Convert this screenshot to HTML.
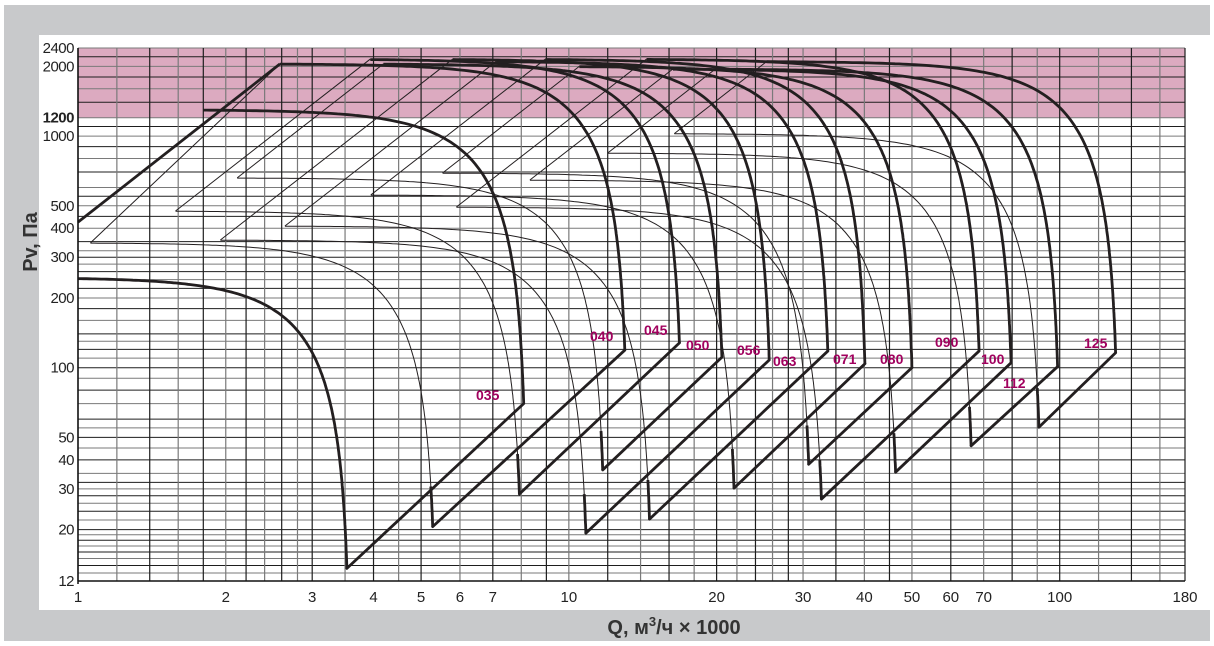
<!DOCTYPE html>
<html><head><meta charset="utf-8">
<style>
html,body{margin:0;padding:0;background:#fff;width:1214px;height:646px;overflow:hidden}
svg{display:block}
text{font-family:"Liberation Sans",Arial,sans-serif}
.tk{font-size:15px;fill:#222}
.lbl{font-size:14px;font-weight:bold;fill:#a1005e}
</style></head>
<body>
<svg id="chart" width="1214" height="646" viewBox="0 0 1214 646" xmlns="http://www.w3.org/2000/svg">
  <rect x="4" y="5" width="1206" height="636" fill="#c8c9cb"/>
  <rect x="39" y="35" width="1171" height="575" fill="#fff"/>
  <rect id="pink" fill="#dcaac0"/>
  <g id="grid"></g>
  <g id="curves"></g>
  <g id="axes"></g>
  <g id="labels">
    <text class="lbl" x="476" y="400">035</text>
    <text class="lbl" x="590" y="341">040</text>
    <text class="lbl" x="644" y="335">045</text>
    <text class="lbl" x="686" y="350">050</text>
    <text class="lbl" x="737" y="355">056</text>
    <text class="lbl" x="773" y="366">063</text>
    <text class="lbl" x="833" y="364">071</text>
    <text class="lbl" x="880" y="364">080</text>
    <text class="lbl" x="935" y="347">090</text>
    <text class="lbl" x="981" y="364">100</text>
    <text class="lbl" x="1003" y="388">112</text>
    <text class="lbl" x="1084" y="348">125</text>
  </g>
  <text transform="translate(37,242) rotate(-90)" text-anchor="middle" font-size="20" font-weight="bold" fill="#333">Pv, Па</text>
  <text x="674" y="634" text-anchor="middle" font-size="20" font-weight="bold" fill="#333">Q, м<tspan font-size="13" dy="-8">3</tspan><tspan dy="8">/ч × 1000</tspan></text>
</svg>
<script>
const fans=['035','040','045','050','056','063','071','080','090','100','112','125'];
const pTop=[1300,2050,2150,2050,2150,2100,2150,2000,2150,1950,1950,2100];
const qMaxStart=[1.8,2.58,3.94,4.19,5.80,7.11,8.96,10.5,14.4,16.3,19.9,25.3];
const qMaxEnd=[8.09,13.0,16.8,20.5,25.6,33.7,40.1,50.0,68.5,79.6,99,130];
const pMaxEnd=[70,119,128,111,108,118,104,100,118,105,101,116];
const qMinStart=[1,1.06,1.58,2.11,1.95,2.64,3.95,5.53,5.9,8.33,12.0,16.4];
const pMin=[245,346,475,660,356,409,557,693,494,646,845,1025];
const qMinEnd=[3.53,5.28,7.93,11.72,10.83,14.6,21.7,30.8,32.7,46.3,66,90.7];
const pMinEnd=[13.6,20.6,28.5,36.2,19.3,22.2,30.2,38.3,27.1,35.4,46,55.3];
const leftDiag=[[1,425],[2.58,2050]];
const xTicks=[1,2,3,4,5,6,7,10,20,30,40,50,60,70,100,180];
const yTicks=[12,20,30,40,50,100,200,300,400,500,1000,1200,2000,2400];
const xGrid=[1,1.2,1.4,1.6,1.8,2,2.2,2.4,2.6,2.8,3,3.5,4,4.5,5,6,7,8,9,10,12,14,16,18,20,22,24,26,28,30,35,40,45,50,60,70,80,90,100,120,140,160,180];
const yGrid=[12,13,14,15,16,17,18,19,20,22,24,26,28,30,32,35,40,45,50,55,60,70,80,90,100,110,120,130,140,160,180,200,220,240,260,280,300,320,350,400,450,500,550,600,700,800,900,1000,1100,1200,1400,1600,1800,2000,2200,2400];

const X0=78,X1=1185,Y0=581,Y1=48,QMIN=1,QMAX=180,PMIN=12,PMAX=2400;
function xs(q){return X0+(X1-X0)*Math.log(q/QMIN)/Math.log(QMAX/QMIN);}
function ys(p){return Y0-(Y0-Y1)*Math.log(p/PMIN)/Math.log(PMAX/PMIN);}
const NS='http://www.w3.org/2000/svg';
function mk(tag,attrs,parent){const e=document.createElementNS(NS,tag);for(const k in attrs)e.setAttribute(k,attrs[k]);parent.appendChild(e);return e;}

const pink=document.getElementById('pink');
pink.setAttribute('x',X0);pink.setAttribute('y',ys(2400));
pink.setAttribute('width',X1-X0);pink.setAttribute('height',ys(1200)-ys(2400));

const grid=document.getElementById('grid');
yGrid.forEach((p,i)=>{
  const l=mk('line',{x1:X0,x2:X1,y1:ys(p),y2:ys(p),stroke:i%2?'#7a7a7a':'#1e1e1e','stroke-width':1},grid);
  
  
});
xGrid.forEach((q,i)=>{
  const l=mk('line',{x1:xs(q),x2:xs(q),y1:Y1,y2:Y0,stroke:i%2?'#7a7a7a':'#1e1e1e','stroke-width':1.2},grid);
  
  
});

const K=3.6;
function curvePts(qs,ptop,qe,pend){
  const qc=qe/Math.pow(1-pend/ptop,1/K);
  const qk=qc*Math.pow(0.5,1/K);
  const pts=[];
  const n=80;
  for(let i=0;i<=n;i++){const q=qs*Math.pow(qk/qs,i/n);pts.push([q,ptop*(1-Math.pow(q/qc,K))]);}
  for(let i=1;i<=n;i++){const p=0.5*ptop*Math.pow(pend/(0.5*ptop),i/n);pts.push([qc*Math.pow(1-p/ptop,1/K),p]);}
  return pts;
}
function toPath(pts){return pts.map((d,i)=>(i?'L':'M')+xs(d[0]).toFixed(1)+' '+ys(d[1]).toFixed(1)).join(' ');}

const cg=document.getElementById('curves');
const INK='#231f20';
fans.forEach((f,i)=>{
  const mp=curvePts(qMinStart[i],pMin[i],qMinEnd[i],pMinEnd[i]);
  const m=mk('path',{d:toPath(mp),fill:'none',stroke:INK,'stroke-width':i===0?2.8:1},cg);
  
  
  if(i>0){
    const tail=mp.filter(d=>d[1]<=pMinEnd[i]*1.5);
    const t=mk('path',{d:toPath(tail),fill:'none',stroke:INK,'stroke-width':2.8},cg);
    
    
    const dg=mk('line',{x1:xs(qMinStart[i]),y1:ys(pMin[i]),x2:xs(qMaxStart[i]),y2:ys(pTop[i]),stroke:INK,'stroke-width':1},cg);
    
    
  }
  const M=mk('path',{d:toPath(curvePts(qMaxStart[i],pTop[i],qMaxEnd[i],pMaxEnd[i])),fill:'none',stroke:INK,'stroke-width':2.8},cg);
  
  
  const b=mk('line',{x1:xs(qMinEnd[i]),y1:ys(pMinEnd[i]),x2:xs(qMaxEnd[i]),y2:ys(pMaxEnd[i]),stroke:INK,'stroke-width':2.8,'stroke-linecap':'round'},cg);
  
  
});
const ld=mk('polyline',{points:leftDiag.map(d=>xs(d[0])+','+ys(d[1])).join(' '),fill:'none',stroke:INK,'stroke-width':2.8},cg);



const ax=document.getElementById('axes');
const a1=mk('line',{x1:X0,x2:X0,y1:Y1,y2:Y0+3,stroke:'#111','stroke-width':1.5},ax);


const a2=mk('line',{x1:X0,x2:X1,y1:Y0,y2:Y0,stroke:'#111','stroke-width':1.5},ax);


yTicks.forEach(p=>{
  const t=mk('text',{x:74,y:ys(p)+5,'text-anchor':'end',class:'tk','font-weight':p===1200?'bold':'normal','letter-spacing':'-0.5'},ax);
  t.textContent=p;
  
  
});
xTicks.forEach(q=>{
  const t=mk('text',{x:xs(q),y:602,'text-anchor':'middle',class:'tk'},ax);
  t.textContent=q;
  
  
});
</script>
</body></html>
